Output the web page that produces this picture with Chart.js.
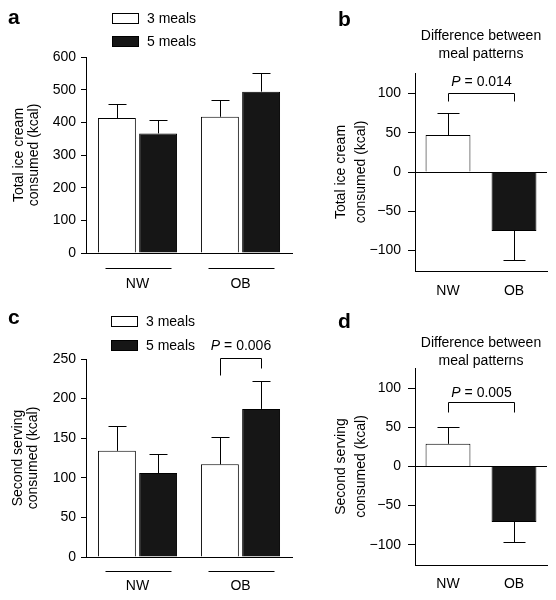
<!DOCTYPE html>
<html>
<head>
<meta charset="utf-8">
<script src="https://cdn.jsdelivr.net/npm/chart.js@4.4.1/dist/chart.umd.min.js"></script>
<style>
  html, body { margin: 0; padding: 0; background: #fff; }
  #wrap { position: relative; width: 556px; height: 600px; }
  canvas { position: absolute; }
</style>
</head>
<body>
<div id="wrap">
  <canvas id="pa" width="300" height="300" style="left:0;top:0;width:300px;height:300px"></canvas>
  <canvas id="pb" width="256" height="300" style="left:300px;top:0;width:256px;height:300px"></canvas>
  <canvas id="pc" width="300" height="300" style="left:0;top:300px;width:300px;height:300px"></canvas>
  <canvas id="pd" width="256" height="300" style="left:300px;top:300px;width:256px;height:300px"></canvas>
</div>
<script>
// ---- data ----
const groups = ["NW", "OB"];
const seriesNames = ["3 meals", "5 meals"];

// a: total ice cream consumed (kcal), mean and SEM
const totalThree = [413, 417];
const totalThreeErr = [42, 51];
const totalFive = [366, 494];
const totalFiveErr = [40, 58];
const totalTicks = [0, 100, 200, 300, 400, 500, 600];

// b: difference between meal patterns, total
const totalDiff = [47, -75];
const totalDiffErr = [28, 37];

// c: second serving consumed (kcal)
const secondThree = [134, 117];
const secondThreeErr = [31, 35];
const secondFive = [106, 187];
const secondFiveErr = [24, 35];
const secondTicks = [0, 50, 100, 150, 200, 250];

// d: difference between meal patterns, second serving
const secondDiff = [29, -71];
const secondDiffErr = [21, 25];

const diffTicks = [-100, -50, 0, 50, 100];

const WHITE = "#ffffff";
const BLACK = "#161616";
const FONT = "'Liberation Sans', Arial, Helvetica, sans-serif";

Chart.defaults.font.family = FONT;
Chart.defaults.font.size = 14;
Chart.defaults.color = "#000";

const fmt = v => (v < 0 ? "\u2212" + Math.abs(v) : String(v));

// draws error bars, legend, group underlines, titles and brackets
function decoPlugin(cfg) {
  return {
    id: "deco",
    afterDatasetsDraw(chart) {
      const ctx = chart.ctx;
      const y = chart.scales.y;
      ctx.save();
      ctx.strokeStyle = "#000";
      ctx.lineWidth = 1;
      cfg.errors.forEach((errs, i) => {
        const meta = chart.getDatasetMeta(i);
        meta.data.forEach((bar, j) => {
          const v = chart.data.datasets[i].data[j];
          const end = v >= 0 ? v + errs[j] : v - errs[j];
          const x = Math.round(bar.x) + 0.5;
          const y0 = y.getPixelForValue(v);
          const y1 = Math.round(y.getPixelForValue(end)) + 0.5;
          const half = Math.round(bar.width * 0.25);
          ctx.beginPath();
          ctx.moveTo(x, y0);
          ctx.lineTo(x, y1);
          ctx.moveTo(x - half, y1);
          ctx.lineTo(x + half, y1);
          ctx.stroke();
        });
      });
      ctx.restore();
    },
    afterDraw(chart) {
      const ctx = chart.ctx;
      const area = chart.chartArea;
      const xs = chart.scales.x;
      const ys = chart.scales.y;
      ctx.save();
      ctx.fillStyle = "#000";
      ctx.strokeStyle = "#000";
      ctx.lineWidth = 1;

      // panel letter
      ctx.font = "bold 21px " + FONT;
      ctx.textAlign = "left";
      ctx.textBaseline = "alphabetic";
      ctx.fillText(cfg.letter.text, cfg.letter.x, cfg.letter.y);

      // legend
      if (cfg.legend) {
        ctx.font = "14px " + FONT;
        ctx.textBaseline = "middle";
        chart.data.datasets.forEach((ds, k) => {
          const bx = cfg.legend.x, by = cfg.legend.y + k * cfg.legend.step;
          ctx.fillStyle = ds.backgroundColor;
          ctx.fillRect(bx, by, 27, 11);
          ctx.strokeRect(bx + 0.5, by + 0.5, 26, 10);
          ctx.fillStyle = "#000";
          ctx.fillText(ds.label, bx + 35, by + 6);
        });
      }

      // group underlines
      if (cfg.groupLine) {
        const gy = Math.round(area.bottom + cfg.groupLine) + 0.5;
        groups.forEach((g, j) => {
          const cx = xs.getPixelForValue(j) + 1;
          ctx.beginPath();
          ctx.moveTo(cx - 33, gy);
          ctx.lineTo(cx + 33, gy);
          ctx.stroke();
        });
      }

      // title
      if (cfg.title) {
        ctx.font = "14px " + FONT;
        ctx.textAlign = "center";
        ctx.textBaseline = "middle";
        const cx = (area.left + area.right) / 2;
        cfg.title.lines.forEach((t, k) => ctx.fillText(t, cx, cfg.title.y + k * 18));
      }

      // significance bracket
      if (cfg.bracket) {
        const b = cfg.bracket;
        const x1 = Math.round(chart.getDatasetMeta(b.from[0]).data[b.from[1]].x) + 0.5;
        const x2 = Math.round(chart.getDatasetMeta(b.to[0]).data[b.to[1]].x) + 0.5;
        const top = Math.round(ys.getPixelForValue(b.level)) + 0.5;
        ctx.beginPath();
        ctx.moveTo(x1, top + b.dropL);
        ctx.lineTo(x1, top);
        ctx.lineTo(x2, top);
        ctx.lineTo(x2, top + b.dropR);
        ctx.stroke();
        ctx.textBaseline = "middle";
        ctx.textAlign = "left";
        ctx.font = "italic 14px " + FONT;
        const wP = ctx.measureText("P").width;
        ctx.font = "14px " + FONT;
        const rest = " = " + b.p;
        const wR = ctx.measureText(rest).width;
        const sx = (x1 + x2) / 2 - (wP + wR) / 2;
        const ty = top - b.gap;
        ctx.font = "italic 14px " + FONT;
        ctx.fillText("P", sx, ty);
        ctx.font = "14px " + FONT;
        ctx.fillText(rest, sx + wP, ty);
      }
      ctx.restore();
    }
  };
}

function makePanel(id, cfg) {
  return new Chart(document.getElementById(id), {
    type: "bar",
    data: { labels: groups, datasets: cfg.datasets },
    options: {
      responsive: false,
      animation: false,
      events: [],
      layout: { padding: { top: cfg.top, right: cfg.right, left: 0, bottom: 0 } },
      datasets: {
        bar: {
          borderColor: "#000",
          borderWidth: 1,
          categoryPercentage: cfg.catPct,
          barPercentage: cfg.barPct
        }
      },
      plugins: { legend: { display: false }, tooltip: { enabled: false } },
      scales: {
        x: {
          grid: { display: false, drawTicks: false },
          border: { display: true, color: "#000", width: 1 },
          ticks: { color: "#000", font: { size: 14 }, padding: cfg.xPad },
          afterFit: s => { s.height = cfg.xHeight; }
        },
        y: {
          min: cfg.min,
          max: cfg.max,
          afterBuildTicks: s => { s.ticks = cfg.ticks.map(v => ({ value: v })); },
          ticks: { color: "#000", font: { size: 14 }, padding: cfg.yPad, callback: v => fmt(v) },
          grid: {
            drawOnChartArea: cfg.zeroLine,
            color: c => (c.tick && c.tick.value === 0 ? "#000" : "rgba(0,0,0,0)"),
            tickColor: "#000",
            tickLength: cfg.tickLen,
            lineWidth: 1
          },
          border: { display: true, color: "#000", width: 1 },
          title: {
            display: true,
            text: cfg.yTitle,
            color: "#000",
            font: { size: 14, lineHeight: cfg.titleLH / 14 },
            padding: { top: cfg.titlePad, bottom: 0 }
          },
          afterFit: s => { s.width = cfg.yWidth; }
        }
      }
    },
    plugins: [decoPlugin(cfg)]
  });
}

const leftBase = {
  right: 8, yWidth: 86, tickLen: 5, yPad: 5, titleLH: 15, titlePad: 11.5,
  catPct: 0.8, barPct: 0.92, zeroLine: false
};
const rightBase = {
  right: 9, yWidth: 115, tickLen: 7, yPad: 7, titleLH: 20, titlePad: 31,
  catPct: 0.68, barPct: 1, zeroLine: true, min: -126, max: 126, ticks: diffTicks
};

makePanel("pa", Object.assign({}, leftBase, {
  top: 57, xHeight: 47, xPad: 23, min: 0, max: 600, ticks: totalTicks,
  yTitle: ["Total ice cream", "consumed (kcal)"],
  datasets: [
    { label: seriesNames[0], data: totalThree, backgroundColor: WHITE },
    { label: seriesNames[1], data: totalFive, backgroundColor: BLACK }
  ],
  errors: [totalThreeErr, totalFiveErr],
  letter: { text: "a", x: 8, y: 24 },
  legend: { x: 112, y: 13, step: 23 },
  groupLine: 15
}));

makePanel("pb", Object.assign({}, rightBase, {
  top: 73, xHeight: 29, xPad: 12,
  yTitle: ["Total ice cream", "consumed (kcal)"],
  datasets: [
    { label: "Difference", data: totalDiff, backgroundColor: [WHITE, BLACK] }
  ],
  errors: [totalDiffErr],
  letter: { text: "b", x: 38, y: 26 },
  title: { lines: ["Difference between", "meal patterns"], y: 36 },
  bracket: { from: [0, 0], to: [0, 1], level: 100, dropL: 8, dropR: 8, gap: 11, p: "0.014" }
}));

makePanel("pc", Object.assign({}, leftBase, {
  top: 59, xHeight: 43, xPad: 21, min: 0, max: 250, ticks: secondTicks,
  titlePad: 11,
  yTitle: ["Second serving", "consumed (kcal)"],
  datasets: [
    { label: seriesNames[0], data: secondThree, backgroundColor: WHITE },
    { label: seriesNames[1], data: secondFive, backgroundColor: BLACK }
  ],
  errors: [secondThreeErr, secondFiveErr],
  letter: { text: "c", x: 8, y: 24 },
  legend: { x: 111, y: 16, step: 24 },
  groupLine: 14,
  bracket: { from: [0, 1], to: [1, 1], level: 251, dropL: 17, dropR: 10, gap: 12, p: "0.006" }
}));

makePanel("pd", Object.assign({}, rightBase, {
  top: 68, xHeight: 35, xPad: 11,
  yTitle: ["Second serving", "consumed (kcal)"],
  datasets: [
    { label: "Difference", data: secondDiff, backgroundColor: [WHITE, BLACK] }
  ],
  errors: [secondDiffErr],
  letter: { text: "d", x: 38, y: 28 },
  title: { lines: ["Difference between", "meal patterns"], y: 43 },
  bracket: { from: [0, 0], to: [0, 1], level: 82, dropL: 10, dropR: 10, gap: 9, p: "0.005" }
}));
</script>
</body>
</html>
